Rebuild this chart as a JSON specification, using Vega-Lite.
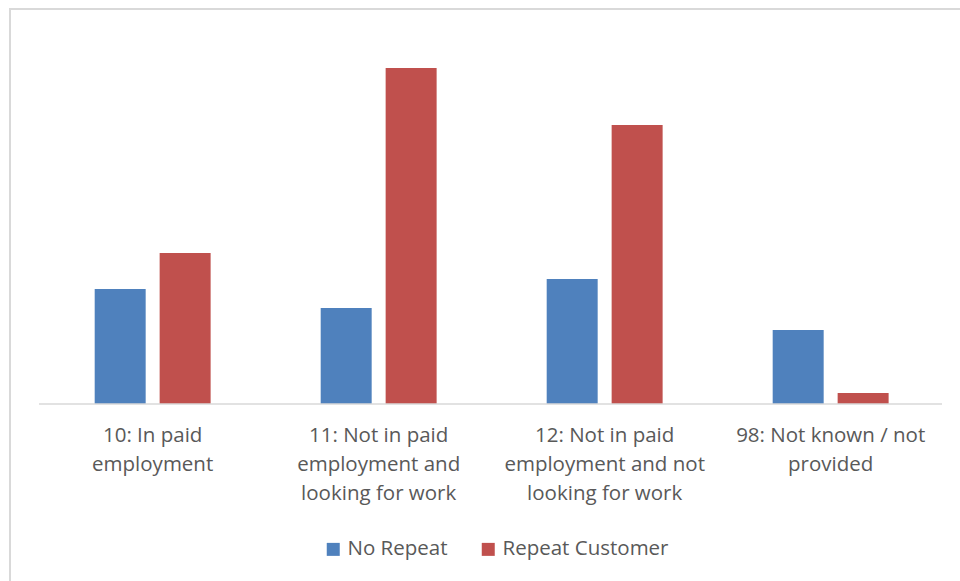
{
  "$schema": "https://vega.github.io/schema/vega-lite/v6.json",
  "width": 960,
  "height": 580,
  "autosize": {"type": "none"},
  "padding": {"left": 10, "top": 9, "right": 0, "bottom": 0},
  "background": "white",
  "config": {
    "view": {"stroke": "#d9d9d9", "strokeWidth": 2},
    "font": "Open Sans"
  },
  "layer": [
    {
      "data": {
        "values": [
          {"category": "10: In paid employment", "series": "No Repeat", "value": 115},
          {"category": "10: In paid employment", "series": "Repeat Customer", "value": 151},
          {"category": "11: Not in paid employment and looking for work", "series": "No Repeat", "value": 96},
          {"category": "11: Not in paid employment and looking for work", "series": "Repeat Customer", "value": 336},
          {"category": "12: Not in paid employment and not looking for work", "series": "No Repeat", "value": 125},
          {"category": "12: Not in paid employment and not looking for work", "series": "Repeat Customer", "value": 279},
          {"category": "98: Not known / not provided", "series": "No Repeat", "value": 74},
          {"category": "98: Not known / not provided", "series": "Repeat Customer", "value": 11}
        ]
      },
      "mark": {"type": "bar"},
      "encoding": {
        "x": {
          "field": "category",
          "type": "nominal",
          "sort": null,
          "scale": {"paddingInner": 0.487, "paddingOuter": 0.3674, "align": 0.51},
          "axis": {
            "orient": "bottom",
            "offset": -185,
            "title": null,
            "domain": false,
            "ticks": false,
            "grid": false,
            "labelAngle": 0,
            "labelFont": "Open Sans",
            "labelFontSize": 20.5,
            "labelColor": "#595959",
            "labelLineHeight": 29,
            "labelPadding": 21,
            "labelLimit": 400,
            "labelOverlap": false,
            "labelExpr": "datum.value == '10: In paid employment' ? ['10: In paid', 'employment'] : datum.value == '11: Not in paid employment and looking for work' ? ['11: Not in paid', 'employment and', 'looking for work'] : datum.value == '12: Not in paid employment and not looking for work' ? ['12: Not in paid', 'employment and not', 'looking for work'] : ['98: Not known / not', 'provided']"
          }
        },
        "xOffset": {
          "field": "series",
          "type": "nominal",
          "sort": ["No Repeat", "Repeat Customer"],
          "scale": {"paddingInner": 0.215, "paddingOuter": 0}
        },
        "y": {
          "field": "value",
          "type": "quantitative",
          "scale": {"domain": [-185, 395], "nice": false},
          "axis": null
        },
        "color": {
          "field": "series",
          "type": "nominal",
          "scale": {"domain": ["No Repeat", "Repeat Customer"], "range": ["#4F81BD", "#C0504D"]},
          "legend": {
            "orient": "none",
            "legendX": 313,
            "legendY": 530,
            "direction": "horizontal",
            "title": null,
            "symbolType": "square",
            "symbolSize": 169,
            "symbolStrokeWidth": 0,
            "labelFont": "Open Sans",
            "labelFontSize": 20.5,
            "labelColor": "#595959",
            "labelOffset": 4,
            "labelLimit": 400,
            "columnPadding": 30,
            "padding": 0
          }
        }
      }
    },
    {
      "data": {"values": [{"start": 0, "end": 1, "level": 0}]},
      "mark": {"type": "rule", "color": "#d9d9d9", "strokeWidth": 1.5},
      "encoding": {
        "x": {"field": "start", "type": "quantitative", "scale": {"domain": [0, 1], "range": [29, 932]}, "axis": null},
        "x2": {"field": "end"},
        "y": {"field": "level", "type": "quantitative"}
      }
    }
  ],
  "resolve": {"scale": {"x": "independent"}}
}
